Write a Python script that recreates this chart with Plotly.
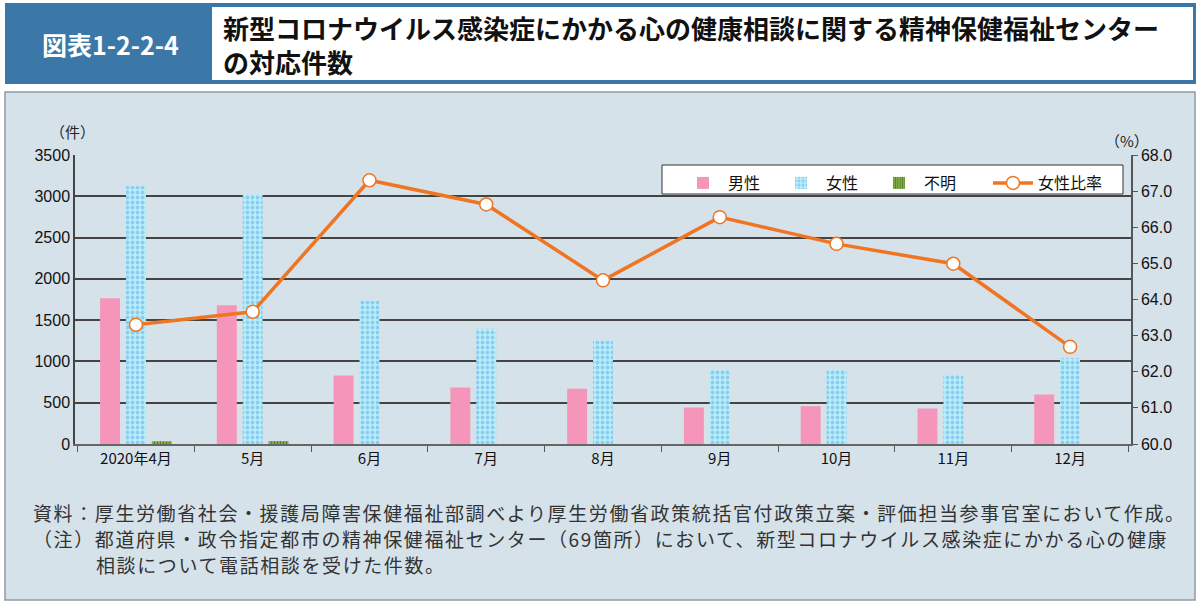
import plotly.graph_objects as go

months = ["2020年4月", "5月", "6月", "7月", "8月", "9月", "10月", "11月", "12月"]
male = [1765, 1680, 831, 685, 668, 442, 458, 430, 600]
female = [3123, 3022, 1735, 1395, 1250, 893, 895, 838, 1037]
unknown = [33, 35, 0, 0, 0, 0, 0, 0, 0]
ratio = [63.3, 63.66, 67.3, 66.63, 64.53, 66.28, 65.54, 64.99, 62.69]

W, H = 1200, 607
L, R, T, B = 75, 1131, 155, 444
PW, PH = R - L, B - T
JP = "Noto Sans CJK JP"


def px(x):
    return (x - L) / PW


def py(y):
    return (B - y) / PH


fig = go.Figure()
fig.add_trace(go.Bar(x=months, y=male, name="男性", legend="legend",
                     marker=dict(color="#f595b9", line=dict(width=0))))
fig.add_trace(go.Bar(x=months, y=female, name="女性", legend="legend",
                     marker=dict(color="#b5f0fa", line=dict(width=0),
                                 pattern=dict(shape=".", fgcolor="#6aa6e6", bgcolor="#b5f0fa",
                                              size=5, solidity=0.45))))
fig.add_trace(go.Bar(x=months, y=unknown, name="不明", legend="legend",
                     marker=dict(color="#8cbd48", line=dict(width=0),
                                 pattern=dict(shape="|", fgcolor="#27400e", bgcolor="#8cbd48",
                                              size=3, solidity=0.5))))
fig.add_trace(go.Scatter(x=months, y=ratio, name="女性比率", yaxis="y2", mode="lines+markers",
                         legend="legend2",
                         line=dict(color="#f07522", width=3.5),
                         marker=dict(symbol="circle", size=13, color="white",
                                     line=dict(color="#f07522", width=1.5))))

shapes = [
    # chart panel
    dict(type="rect", xref="paper", yref="paper", x0=px(5), x1=px(1195), y0=py(600), y1=py(92),
         fillcolor="#d6e2ea", line=dict(color="#8d9aa3", width=1.5), layer="below"),
    # title band
    dict(type="rect", xref="paper", yref="paper", x0=px(5), x1=px(1196), y0=py(84), y1=py(3),
         fillcolor="#3b78a8", line=dict(width=0), layer="below"),
    dict(type="rect", xref="paper", yref="paper", x0=px(212), x1=px(1193), y0=py(80), y1=py(7),
         fillcolor="white", line=dict(width=0), layer="below"),
    # legend box
    dict(type="rect", xref="paper", yref="paper", x0=px(662), x1=px(1123), y0=py(194), y1=py(165),
         fillcolor="white", line=dict(color="#333", width=1), layer="above"),
]

LS = "<span style='letter-spacing:1.6px'>{}</span>"
ann = [
    dict(text="<b>図表1-2-2-4</b>", x=px(110), y=py(44), xanchor="center", yanchor="middle",
         font=dict(size=25, color="white", family=JP)),
    dict(text="<b>新型コロナウイルス感染症にかかる心の健康相談に関する精神保健福祉センター<br>の対応件数</b>",
         x=px(221), y=py(44), xanchor="left", yanchor="middle", align="left",
         font=dict(size=26, color="#111", family=JP)),
    dict(text="（件）", x=px(72), y=py(131), xanchor="center", yanchor="middle",
         font=dict(size=15, color="#222", family=JP)),
    dict(text="（%）", x=px(1127), y=py(141), xanchor="center", yanchor="middle",
         font=dict(size=15, color="#222", family=JP)),
    dict(text=LS.format("資料：厚生労働省社会・援護局障害保健福祉部調べより厚生労働省政策統括官付政策立案・評価担当参事官室において作成。"),
         x=px(31), y=py(512), xanchor="left", yanchor="middle",
         font=dict(size=19, color="#333", family=JP)),
    dict(text=LS.format("（注）都道府県・政令指定都市の精神保健福祉センター（69箇所）において、新型コロナウイルス感染症にかかる心の健康"),
         x=px(31), y=py(538), xanchor="left", yanchor="middle",
         font=dict(size=19, color="#333", family=JP)),
    dict(text=LS.format("相談について電話相談を受けた件数。"),
         x=px(94), y=py(564), xanchor="left", yanchor="middle",
         font=dict(size=19, color="#333", family=JP)),
]
for a in ann:
    a.update(xref="paper", yref="paper", showarrow=False)

fig.update_layout(
    width=W, height=H,
    margin=dict(l=L, r=W - R, t=T, b=H - B, pad=0),
    paper_bgcolor="white", plot_bgcolor="white",
    font=dict(family=JP, color="#222"),
    barmode="group", bargap=0.335, bargroupgap=0.23,
    showlegend=True,
    legend=dict(orientation="h", x=px(678), y=py(166), xanchor="left", yanchor="top",
                bgcolor="rgba(0,0,0,0)", borderwidth=0,
                font=dict(size=16, family=JP, color="#111"), itemwidth=40, entrywidth=43,
                tracegroupgap=0),
    legend2=dict(orientation="h", x=px(988), y=py(166), xanchor="left", yanchor="top",
                 bgcolor="rgba(0,0,0,0)", borderwidth=0,
                 font=dict(size=16, family=JP, color="#111"), itemwidth=40),
    xaxis=dict(type="category", tickson="boundaries", ticks="outside", ticklen=6, tickcolor="#555",
               showline=True, linecolor="#666", linewidth=1.5, showgrid=False,
               tickfont=dict(size=15, family=JP, color="#111")),
    yaxis=dict(range=[0, 3500], dtick=500, showgrid=True, gridcolor="#444", gridwidth=1.5,
               showline=True, linecolor="#444", linewidth=1.5, zeroline=False,
               ticks="", tickfont=dict(size=16, family="Liberation Sans", color="#111")),
    yaxis2=dict(range=[60, 68], dtick=1, overlaying="y", side="right", showgrid=False,
                showline=True, linecolor="#555", linewidth=1.5, ticks="outside", ticklen=5,
                tickcolor="#555", tickformat=".1f", zeroline=False,
                tickfont=dict(size=16, family="Liberation Sans", color="#111")),
    shapes=shapes, annotations=ann,
)

fig.write_html("out.html", config={"displayModeBar": False},
               post_script="document.body.style.margin='0px';document.body.style.overflow='hidden';")
